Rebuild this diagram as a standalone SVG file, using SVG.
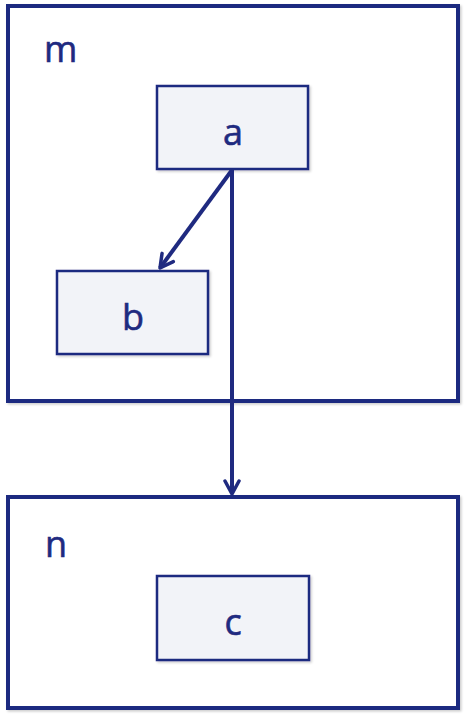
<svg xmlns="http://www.w3.org/2000/svg" width="466" height="718" viewBox="0 0 466 718">
<style>
.outer{fill:#ffffff;stroke:#1f2a80;stroke-width:4}
.inner{fill:#f2f3f8;stroke:#1f2a80;stroke-width:2.5}
.lbl{font-family:"Open Sans","Liberation Sans",sans-serif;font-size:36px;fill:#1f2a80;stroke:#1f2a80;stroke-width:0.6}
.conn{stroke:#1f2a80;stroke-width:4;fill:none}
</style>
<defs>
<filter id="sh" x="-5%" y="-5%" width="110%" height="110%">
<feDropShadow dx="1.5" dy="1.5" stdDeviation="1" flood-color="#000" flood-opacity="0.2"/>
</filter>
<marker id="arr" viewBox="0 0 18 18" refX="16" refY="9" markerWidth="18" markerHeight="18" markerUnits="userSpaceOnUse" orient="auto">
<path d="M3,2 L16,9 L3,16" fill="none" stroke="#1f2a80" stroke-width="3.5" stroke-linecap="round" stroke-linejoin="round"/>
</marker>
</defs>
<g id="m">
<rect class="outer" x="8" y="6" width="450" height="395" filter="url(#sh)"/>
<text class="lbl" x="44" y="62">m</text>
</g>
<g id="n">
<rect class="outer" x="8" y="497" width="450" height="211" filter="url(#sh)"/>
<text class="lbl" x="45" y="557">n</text>
</g>
<g id="a">
<rect class="inner" x="157" y="86" width="151" height="83" filter="url(#sh)"/>
<text class="lbl" x="233" y="145" text-anchor="middle">a</text>
</g>
<g id="b">
<rect class="inner" x="57" y="271" width="151" height="83" filter="url(#sh)"/>
<text class="lbl" x="133" y="330" text-anchor="middle">b</text>
</g>
<g id="c">
<rect class="inner" x="157" y="576" width="152" height="84" filter="url(#sh)"/>
<text class="lbl" x="233" y="635" text-anchor="middle">c</text>
</g>
<g id="connectors">
<line class="conn" x1="232" y1="170" x2="160" y2="268" marker-end="url(#arr)"/>
<line class="conn" x1="232" y1="170" x2="232" y2="494" marker-end="url(#arr)"/>
</g>
</svg>
